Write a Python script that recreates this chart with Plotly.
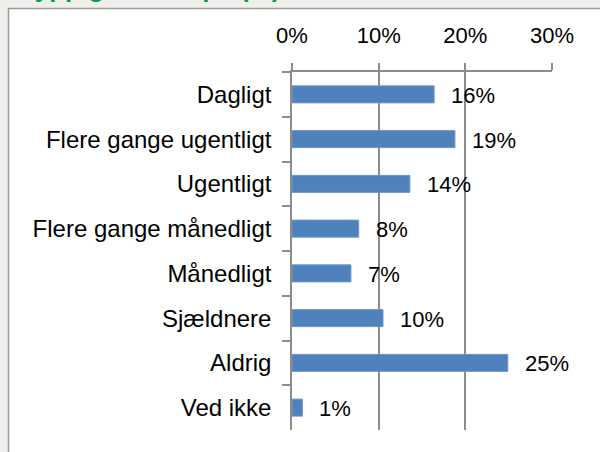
import plotly.graph_objects as go

categories = ["Dagligt", "Flere gange ugentligt", "Ugentligt", "Flere gange månedligt",
              "Månedligt", "Sjældnere", "Aldrig", "Ved ikke"]
values = [16.4, 18.8, 13.6, 7.7, 6.8, 10.5, 24.9, 1.2]
labels = ["16%", "19%", "14%", "8%", "7%", "10%", "25%", "1%"]
x_ticks = [0, 10, 20, 30]
x_tick_labels = ["0%", "10%", "20%", "30%"]
title_text = "Hyppighed af spil (%)"

FONT = "Liberation Sans, Arial, sans-serif"
W, H = 600, 452
L, R, T, B = 292, 48, 72, 22
pw, ph = W - L - R, H - T - B

def fx(px):
    return (px - L) / pw

def fy(py):
    return (H - B - py) / ph

fig = go.Figure()
fig.add_trace(go.Bar(
    x=values, y=categories, orientation="h",
    marker=dict(color="#4f81bd", line=dict(color="#6f97c9", width=1)),
    width=0.38, hoverinfo="skip",
))

for v, c, t in zip(values, categories, labels):
    fig.add_annotation(x=v, y=c, xref="x", yref="y", text=t, showarrow=False,
                       xanchor="left", yanchor="middle", xshift=15, yshift=-1,
                       font=dict(family=FONT, size=22, color="black"))

# white chart box with grey border, extending past the right/bottom edge
fig.add_shape(type="rect", xref="paper", yref="paper",
              x0=fx(8.5), x1=fx(620), y0=fy(470), y1=fy(8.5),
              fillcolor="white", line=dict(color="#9b9b9b", width=1.5), layer="below")

# clipped title above the box
fig.add_annotation(x=fx(14), y=fy(5), xref="paper", yref="paper", text="<b>" + title_text + "</b>",
                   showarrow=False, xanchor="left", yanchor="bottom",
                   font=dict(family=FONT, size=26, color="#00a04b"))

fig.update_layout(
    width=W, height=H,
    margin=dict(l=L, r=R, t=T, b=B, pad=0),
    paper_bgcolor="#f0efeb", plot_bgcolor="rgba(0,0,0,0)",
    showlegend=False,
    font=dict(family=FONT, size=22, color="black"),
    bargap=0.62,
)
fig.update_xaxes(
    side="top", range=[0, 30], tickvals=x_ticks, ticktext=x_tick_labels,
    showgrid=True, gridcolor="#8c8c8c", gridwidth=1.5,
    showline=True, linecolor="#8c8c8c", linewidth=1.5,
    ticks="outside", ticklen=7, tickcolor="#8c8c8c", tickwidth=1.5,
    ticklabelstandoff=11, zeroline=False, fixedrange=True,
    tickfont=dict(family=FONT, size=22, color="black"),
)
fig.update_yaxes(
    categoryorder="array", categoryarray=categories, autorange="reversed",
    showgrid=False, showline=True, linecolor="#8c8c8c", linewidth=1.5,
    ticks="outside", ticklen=8, tickcolor="#8c8c8c", tickwidth=1.5,
    tickson="boundaries", ticklabelstandoff=14, fixedrange=True,
    tickfont=dict(family=FONT, size=24, color="black"),
)

fig.write_html("out.html", config={"displayModeBar": False},
               post_script="document.body.style.margin='0';document.body.style.overflow='hidden';")
